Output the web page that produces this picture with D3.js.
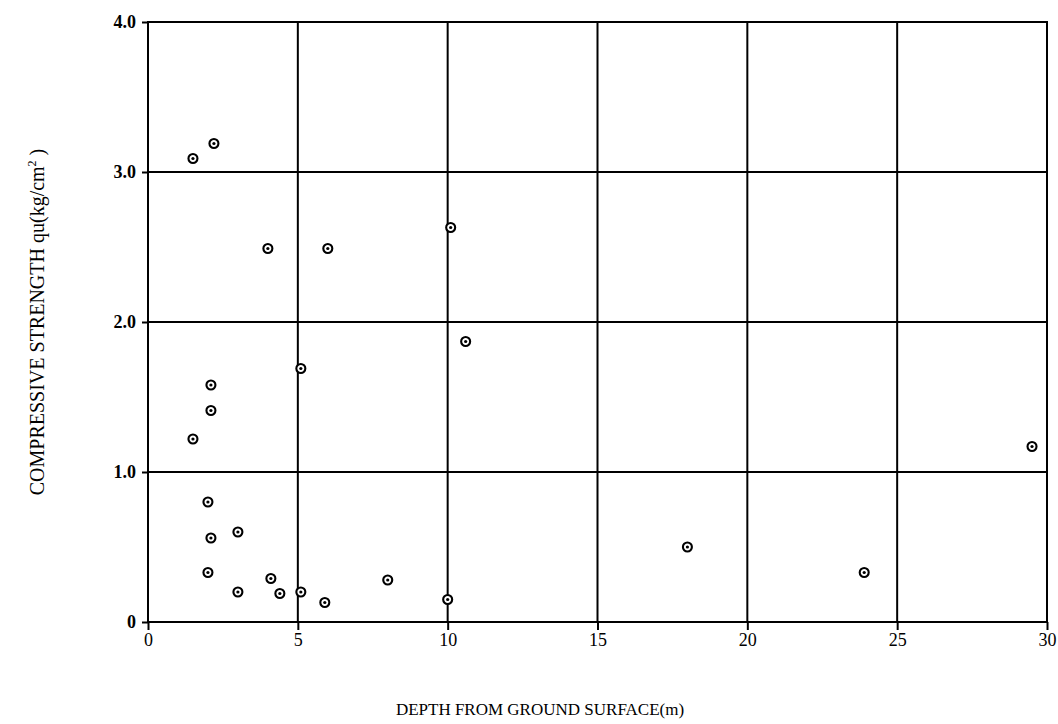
<!DOCTYPE html>
<html>
<head>
<meta charset="utf-8">
<script src="https://cdn.jsdelivr.net/npm/d3@7"></script>
<style>
    html, body { margin: 0; padding: 0; background: #fff; }
    svg text { font-family: "Liberation Serif", "DejaVu Serif", "Times New Roman", serif; fill: #000; }
    .grid line { stroke: #000; stroke-width: 2; }
    .axis path { display: none; }
    .axis line { stroke: #000; stroke-width: 2; }
</style>
</head>
<body>
<svg id="chart" width="1058" height="724"></svg>
<script>
// depth (m) and unconfined compressive strength qu (kg/cm2)
const depth = [1.5, 2.2, 4.0, 6.0, 10.1, 10.6, 5.1, 2.1, 2.1, 1.5, 2.0, 2.1, 3.0, 2.0,
    3.0, 4.1, 4.4, 5.1, 5.9, 8.0, 10.0, 18.0, 23.9, 29.5];
const strength = [3.09, 3.19, 2.49, 2.49, 2.63, 1.87, 1.69, 1.58, 1.41, 1.22, 0.80, 0.56, 0.60, 0.33,
    0.20, 0.29, 0.19, 0.20, 0.13, 0.28, 0.15, 0.50, 0.33, 1.17];

const xTicks = [0, 5, 10, 15, 20, 25, 30];
const yTicks = [0, 1, 2, 3, 4];
const yTickLabels = ["0", "1.0", "2.0", "3.0", "4.0"];

const xLabel = "DEPTH FROM GROUND SURFACE(m)";
const yLabel = "COMPRESSIVE STRENGTH qu(kg/cm";

const svg = d3.select("#chart");
const margin = {top: 22, right: 11, bottom: 102, left: 148};
const width = +svg.attr("width") - margin.left - margin.right;
const height = +svg.attr("height") - margin.top - margin.bottom;

const x = d3.scaleLinear().domain([0, 30]).range([0, width]);
const y = d3.scaleLinear().domain([0, 4]).range([height, 0]);

const g = svg.append("g").attr("transform", "translate(" + margin.left + "," + margin.top + ")");

// grid + frame
const grid = g.append("g").attr("class", "grid");
grid.selectAll("line.v")
    .data(xTicks)
    .enter().append("line")
    .attr("class", "v")
    .attr("x1", (d) => x(d)).attr("x2", (d) => x(d))
    .attr("y1", 0).attr("y2", height);
grid.selectAll("line.h")
    .data(yTicks)
    .enter().append("line")
    .attr("class", "h")
    .attr("x1", -1).attr("x2", width + 1)
    .attr("y1", (d) => y(d)).attr("y2", (d) => y(d));

// axes
const xAxis = d3.axisBottom(x).tickValues(xTicks).tickSize(8).tickPadding(3).tickFormat(d3.format("d"));
const yAxis = d3.axisLeft(y).tickValues(yTicks).tickSize(6).tickPadding(6)
    .tickFormat((d, i) => yTickLabels[i]);

g.append("g")
    .attr("class", "axis axis--x")
    .attr("transform", "translate(0," + height + ")")
    .call(xAxis)
    .selectAll("text")
    .style("font-size", "18px");

g.append("g")
    .attr("class", "axis axis--y")
    .call(yAxis)
    .selectAll("text")
    .style("font-size", "18px")
    .style("font-weight", "bold");

// points: ring with a dot in the middle
const pts = g.selectAll("g.pt")
    .data(depth.map((d, i) => ({depth: d, qu: strength[i]})))
    .enter().append("g")
    .attr("class", "pt")
    .attr("transform", (d) => "translate(" + x(d.depth) + "," + y(d.qu) + ")");
pts.append("circle")
    .attr("r", 4.5)
    .style("fill", "#fff")
    .style("stroke", "#000")
    .style("stroke-width", 2.1);
pts.append("circle")
    .attr("r", 1.6)
    .style("fill", "#000");

// axis titles
svg.append("text")
    .attr("x", 540)
    .attr("y", 715)
    .style("font-size", "17px")
    .style("text-anchor", "middle")
    .text(xLabel);

const yt = svg.append("text")
    .attr("transform", "translate(44,322) rotate(-90)")
    .style("font-size", "20px")
    .style("text-anchor", "middle");
yt.append("tspan").text(yLabel);
yt.append("tspan").attr("dy", -8).style("font-size", "12px").text("2");
yt.append("tspan").attr("dy", 8).text(" )");
</script>
</body>
</html>
